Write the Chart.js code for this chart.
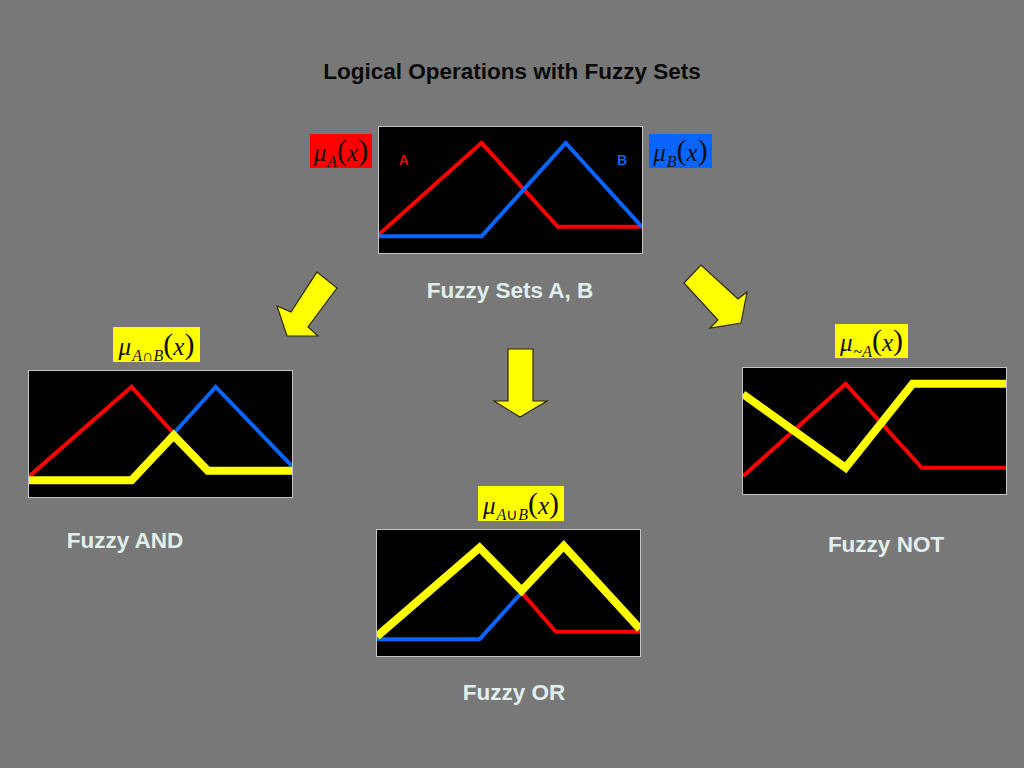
<!DOCTYPE html>
<html>
<head>
<meta charset="utf-8">
<script src="https://cdn.jsdelivr.net/npm/chart.js@4/dist/chart.umd.min.js"></script>
<style>
  body { margin: 0; width: 1024px; height: 768px; background: #787878; position: relative; overflow: hidden; font-family: "Liberation Sans", Arial, sans-serif; }
  .abs { position: absolute; }
  .panel { position: absolute; width: 263px; height: 126px; border: 1px solid #c4c4c4; background: #000; }
  .panel canvas { display: block; }
  .cap { position: absolute; font-weight: bold; font-size: 22.5px; color: #e0efeb; white-space: nowrap; transform: translate(-50%, -50%); }
  .mu { position: absolute; display: flex; align-items: center; justify-content: center; font-family: "Liberation Serif", "Times New Roman", serif; color: #111; font-size: 25px; line-height: 1; }
  .mu > span { white-space: nowrap; }
  .mu .s { font-size: 16px; font-style: italic; position: relative; top: 6px; margin-left: 1px; }
  .mu .p { font-size: 30px; font-style: normal; position: relative; top: -1px; }
  .mu i { font-style: italic; }
</style>
</head>
<body>

<div class="abs" style="left:0;top:72px;width:1024px;text-align:center;font-weight:bold;font-size:22.5px;color:#0a0a0a;transform:translateY(-50%)">Logical Operations with Fuzzy Sets</div>

<!-- membership labels -->
<div class="mu" style="left:310px;top:134px;width:62px;height:34px;background:#ff0000"><span><i>μ</i><span class="s">A</span><span class="p">(</span><i>x</i><span class="p">)</span></span></div>
<div class="mu" style="left:649px;top:134px;width:63px;height:34px;background:#0a64ff"><span><i>μ</i><span class="s">B</span><span class="p">(</span><i>x</i><span class="p">)</span></span></div>
<div class="mu" style="left:113px;top:327px;width:87px;height:35px;background:#ffff00"><span><i>μ</i><span class="s">A<span style="font-style:normal">∩</span>B</span><span class="p">(</span><i>x</i><span class="p">)</span></span></div>
<div class="mu" style="left:835px;top:324px;width:73px;height:34px;background:#ffff00"><span><i>μ</i><span class="s"><span style="font-style:normal">~</span>A</span><span class="p">(</span><i>x</i><span class="p">)</span></span></div>
<div class="mu" style="left:478px;top:486px;width:86px;height:35px;background:#ffff00"><span><i>μ</i><span class="s">A<span style="font-style:normal">∪</span>B</span><span class="p">(</span><i>x</i><span class="p">)</span></span></div>

<!-- panels -->
<div class="panel" style="left:378px;top:126px"><canvas id="sets-chart" width="263" height="126"></canvas></div>
<div class="panel" style="left:28px;top:370px"><canvas id="and-chart" width="263" height="126"></canvas></div>
<div class="panel" style="left:742px;top:367px"><canvas id="not-chart" width="263" height="126"></canvas></div>
<div class="panel" style="left:376px;top:529px"><canvas id="or-chart" width="263" height="126"></canvas></div>

<div class="abs" style="left:404px;top:160px;transform:translate(-50%,-50%);color:#ff0000;font-weight:bold;font-size:14px">A</div>
<div class="abs" style="left:622px;top:160px;transform:translate(-50%,-50%);color:#0a64ff;font-weight:bold;font-size:14px">B</div>

<div class="cap" style="left:510px;top:291px">Fuzzy Sets A, B</div>
<div class="cap" style="left:125px;top:541px">Fuzzy AND</div>
<div class="cap" style="left:886px;top:545px">Fuzzy NOT</div>
<div class="cap" style="left:514px;top:693px">Fuzzy OR</div>

<!-- arrows -->
<svg class="abs" style="left:0;top:0" width="1024" height="768">
  <g fill="#ffff00" stroke="#2e2a00" stroke-width="1.2" stroke-linejoin="miter">
    <polygon points="317,272 337,288 308,327 318,336 287,336 277,306 291,312"/>
    <polygon points="684,283 701,265 738,299 747,292 741,323 710,328 718,320"/>
    <polygon points="508,349 533,349 533,401 547,401 520,417 494,401 508,401"/>
  </g>
</svg>

<script>
// x positions along the universe (0..10), membership values (0..1)
const aX = [0, 3.9, 6.8, 10];
const aY = [0.02, 1, 0.1, 0.1];
const bX = [0, 3.9, 7.1, 10];
const bY = [0, 0, 1, 0.1];

// AND panel: A up to the crossing, B from the crossing, min(A,B)
const andRedX = [0, 3.9, 5.5];
const andRedY = [0.04, 1, 0.5];
const andBlueX = [5.5, 7.1, 10];
const andBlueY = [0.5, 1, 0.15];
const andX = [0, 3.9, 5.5, 6.8, 10];
const andY = [0, 0, 0.48, 0.1, 0.1];

// OR panel: B up to the crossing, A after it, max(A,B)
const orBlueX = [0, 3.9, 5.5];
const orBlueY = [0, 0, 0.5];
const orRedX = [5.5, 6.8, 10];
const orRedY = [0.5, 0.08, 0.08];
const orX = [0, 3.9, 5.5, 7.1, 10];
const orY = [0.03, 0.98, 0.52, 1, 0.11];

// NOT panel: A and its complement
const notRedX = [0, 3.9, 6.8, 10];
const notRedY = [0.01, 1, 0.1, 0.1];
const notX = [0, 3.9, 6.45, 10];
const notY = [0.89, 0.1, 1, 1];

const RED = "#ff0000";
const BLUE = "#0a64ff";
const YELLOW = "#ffff00";

function pts(xs, ys) {
  return xs.map((x, i) => ({ x: x, y: ys[i] }));
}

function line(xs, ys, color, width) {
  return {
    data: pts(xs, ys),
    borderColor: color,
    borderWidth: width,
    pointRadius: 0,
    tension: 0,
    fill: false,
  };
}

function drawPanel(id, datasets) {
  const ctx = document.getElementById(id).getContext("2d");
  return new Chart(ctx, {
    type: "line",
    data: { datasets: datasets },
    options: {
      responsive: false,
      animation: false,
      events: [],
      layout: { padding: 0 },
      plugins: { legend: { display: false }, tooltip: { enabled: false } },
      scales: {
        x: { type: "linear", min: 0, max: 10, display: false },
        y: { min: -0.18, max: 1.17, display: false },
      },
    },
  });
}

// first dataset is drawn on top
drawPanel("sets-chart", [
  line(bX, bY, BLUE, 4),
  line(aX, aY, RED, 4),
]);

drawPanel("and-chart", [
  line(andX, andY, YELLOW, 8),
  line(andBlueX, andBlueY, BLUE, 4),
  line(andRedX, andRedY, RED, 4),
]);

drawPanel("or-chart", [
  line(orX, orY, YELLOW, 8),
  line(orRedX, orRedY, RED, 4),
  line(orBlueX, orBlueY, BLUE, 4),
]);

drawPanel("not-chart", [
  line(notX, notY, YELLOW, 8),
  line(notRedX, notRedY, RED, 4),
]);
</script>
</body>
</html>
